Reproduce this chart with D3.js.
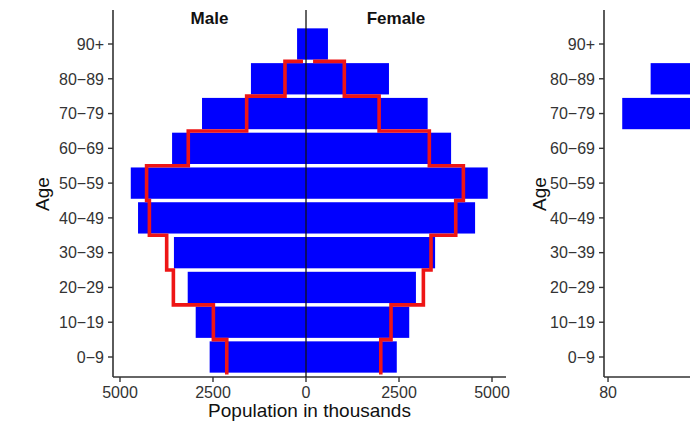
<!DOCTYPE html>
<html>
<head>
<meta charset="utf-8">
<script src="https://cdn.jsdelivr.net/npm/d3@7"></script>
<style>
  body { margin: 0; background: #fff; }
  text { font-family: "Liberation Sans", Arial, sans-serif; }
</style>
</head>
<body>
<div id="chart"></div>
<script>
// age groups, bottom to top
let ages = ["0-9", "10-19", "20-29", "30-39", "40-49", "50-59", "60-69", "70-79", "80-89", "90+"];

// population in thousands (blue bars)
let male = [2590, 2965, 3180, 3550, 4515, 4710, 3600, 2795, 1480, 240];
let female = [2440, 2775, 2955, 3470, 4545, 4885, 3900, 3270, 2230, 590];

// comparison year (red step line)
let maleLine = [2130, 2490, 3565, 3745, 4210, 4285, 3165, 1595, 565, 80];
let femaleLine = [2010, 2285, 3155, 3360, 4025, 4230, 3315, 1965, 1030, 190];

let xTicks = [-5000, -2500, 0, 2500, 5000];

// second panel (only its left edge is in view)
let male2 = [0, 0, 0, 0, 0, 0, 0, 74, 62, 0];
let xTicks2 = [-80];

let width = 690;
let height = 423;

let svg = d3.select("#chart").append("svg")
    .attr("width", width)
    .attr("height", height)
    .style("background", "#fff")

let panelTop = 10, panelBottom = 377;

let y = d3.scaleLinear()
    .domain([0, 9])
    .range([357, 44])
let step = y(0) - y(1);
let barH = 0.9 * step;

function agePanel(left, x, ticks, tickFmt) {
    let g = svg.append("g");

    // y axis
    let yAxis = g.append("g").attr("transform", "translate(" + left + ",0)");
    yAxis.append("line")
        .attr("x1", 0).attr("x2", 0)
        .attr("y1", panelTop).attr("y2", panelBottom)
        .attr("stroke", "#333").attr("stroke-width", 1.6)
    ages.forEach(function (a, i) {
        yAxis.append("line")
            .attr("x1", -5).attr("x2", 0)
            .attr("y1", y(i)).attr("y2", y(i))
            .attr("stroke", "#333").attr("stroke-width", 1.4)
        yAxis.append("text")
            .attr("x", -9)
            .attr("y", y(i))
            .attr("dy", "0.36em")
            .attr("text-anchor", "end")
            .style("font-size", "16px")
            .style("fill", "#333")
            .text(a.replace("-", "\u2212"))
    })

    // x axis
    let xAxis = g.append("g").attr("transform", "translate(0," + panelBottom + ")");
    xAxis.append("line")
        .attr("x1", left).attr("x2", x.range()[1])
        .attr("y1", 0).attr("y2", 0)
        .attr("stroke", "#333").attr("stroke-width", 1.6)
    ticks.forEach(function (t) {
        xAxis.append("line")
            .attr("x1", x(t)).attr("x2", x(t))
            .attr("y1", 0).attr("y2", 5)
            .attr("stroke", "#333").attr("stroke-width", 1.4)
        xAxis.append("text")
            .attr("x", x(t))
            .attr("y", 21)
            .attr("text-anchor", "middle")
            .style("font-size", "16px")
            .style("fill", "#333")
            .text(tickFmt(t))
    })
    return g;
}

// ---- left panel ----
let x = d3.scaleLinear()
    .domain([-5188, 5376])
    .range([113, 506])

agePanel(113, x, xTicks, t => Math.abs(t))

let bars = svg.append("g");
bars.selectAll(".male").data(male).enter().append("rect")
    .attr("x", d => x(-d))
    .attr("y", (d, i) => y(i) - barH / 2)
    .attr("width", d => x(0) - x(-d))
    .attr("height", barH)
    .attr("fill", "#0000ff")
bars.selectAll(".female").data(female).enter().append("rect")
    .attr("x", x(0))
    .attr("y", (d, i) => y(i) - barH / 2)
    .attr("width", d => x(d) - x(0))
    .attr("height", barH)
    .attr("fill", "#0000ff")

svg.append("line")
    .attr("x1", x(0)).attr("x2", x(0))
    .attr("y1", panelTop).attr("y2", panelBottom)
    .attr("stroke", "#111").attr("stroke-width", 1.3)

function stepPoints(vals, sign) {
    let pts = [];
    vals.forEach(function (v, i) {
        pts.push([sign * v, i - 0.5]);
        if (i < vals.length - 1) pts.push([sign * v, i + 0.5]);
    })
    return pts;
}

let stepLine = d3.line()
    .x(d => x(d[0]))
    .y(d => y(d[1]))

svg.append("path")
    .attr("d", stepLine(stepPoints(maleLine, -1)))
    .attr("fill", "none")
    .attr("stroke", "#ee1515")
    .attr("stroke-width", 3.6)
svg.append("path")
    .attr("d", stepLine(stepPoints(femaleLine, 1)))
    .attr("fill", "none")
    .attr("stroke", "#ee1515")
    .attr("stroke-width", 3.6)

svg.append("text")
    .attr("x", (x.range()[0] + x(0)) / 2)
    .attr("y", 24)
    .attr("text-anchor", "middle")
    .style("font-size", "17px")
    .style("font-weight", "bold")
    .style("fill", "#111")
    .text("Male")
svg.append("text")
    .attr("x", 396)
    .attr("y", 24)
    .attr("text-anchor", "middle")
    .style("font-size", "17px")
    .style("font-weight", "bold")
    .style("fill", "#111")
    .text("Female")

svg.append("text")
    .attr("transform", "translate(49,194) rotate(-90)")
    .attr("text-anchor", "middle")
    .style("font-size", "19px")
    .style("fill", "#111")
    .text("Age")

svg.append("text")
    .attr("x", (x.range()[0] + x.range()[1]) / 2)
    .attr("y", 417)
    .attr("text-anchor", "middle")
    .style("font-size", "19px")
    .style("fill", "#111")
    .text("Population in thousands")

// ---- right panel ----
let x2 = d3.scaleLinear()
    .domain([-81.7, 84.3])
    .range([604, 997])

svg.append("g").selectAll("rect")
    .data(male2.map((v, i) => ({ v: v, i: i })).filter(d => d.v > 0))
    .enter().append("rect")
    .attr("x", d => x2(-d.v))
    .attr("y", d => y(d.i) - barH / 2)
    .attr("width", d => x2(0) - x2(-d.v))
    .attr("height", barH)
    .attr("fill", "#0000ff")

agePanel(604, x2, xTicks2, t => Math.abs(t))

svg.append("text")
    .attr("transform", "translate(546,194) rotate(-90)")
    .attr("text-anchor", "middle")
    .style("font-size", "19px")
    .style("fill", "#111")
    .text("Age")
</script>
</body>
</html>
